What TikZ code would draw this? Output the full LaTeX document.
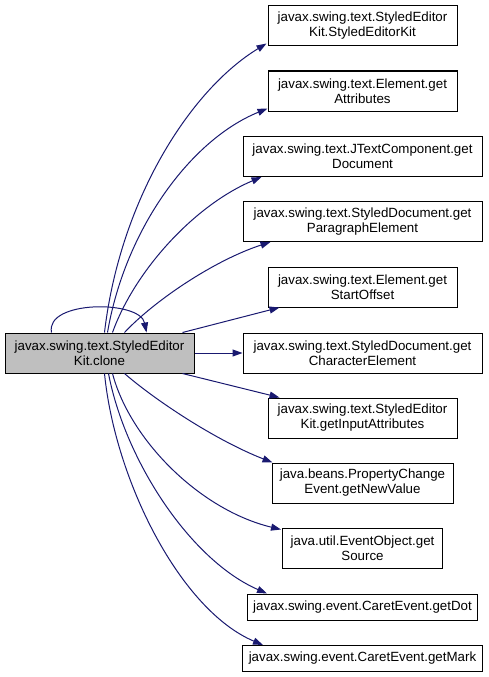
\documentclass[tikz,border=0pt]{standalone}
\usepackage{fontspec}
\setmainfont{Liberation Sans}
\usetikzlibrary{arrows.meta,calc}
\definecolor{edgeblue}{HTML}{191970}
\definecolor{mainfill}{HTML}{BFBFBF}
\begin{document}
\begin{tikzpicture}[x=1pt,y=-1pt,
  box/.style={draw=black,line width=1pt,fill=white,inner sep=0pt,align=center,
    font=\fontsize{13.33}{15}\selectfont,minimum height=40pt},
  onebox/.style={box,minimum height=26pt},
  mainbox/.style={box,fill=mainfill},
  edge/.style={draw=edgeblue,line width=1pt,-{Triangle[length=10pt,width=7pt]}}]
\useasboundingbox (0,0) rectangle (488,677);
\node[mainbox,minimum width=189pt] (main) at (99.5,353) {javax.swing.text.StyledEditor\\Kit.clone};
\node[box,minimum width=189pt] (n1) at (362.5,26) {javax.swing.text.StyledEditor\\Kit.StyledEditorKit};
\node[box,minimum width=189pt] (n2) at (362.5,91) {javax.swing.text.Element.get\\Attributes};
\node[box,minimum width=239pt] (n3) at (362.5,156.5) {javax.swing.text.JTextComponent.get\\Document};
\node[box,minimum width=239pt] (n4) at (362.5,221.5) {javax.swing.text.StyledDocument.get\\ParagraphElement};
\node[box,minimum width=189pt] (n5) at (362.5,287) {javax.swing.text.Element.get\\StartOffset};
\node[box,minimum width=239pt] (n6) at (362.5,353) {javax.swing.text.StyledDocument.get\\CharacterElement};
\node[box,minimum width=189pt] (n7) at (362.5,418) {javax.swing.text.StyledEditor\\Kit.getInputAttributes};
\node[box,minimum width=181pt] (n8) at (362.5,483) {java.beans.PropertyChange\\Event.getNewValue};
\node[box,minimum width=160pt] (n9) at (362.5,548) {java.util.EventObject.get\\Source};
\node[onebox,minimum width=230pt] (n10) at (362.5,607) {javax.swing.event.CaretEvent.getDot};
\node[onebox,minimum width=240pt] (n11) at (362.5,658.5) {javax.swing.event.CaretEvent.getMark};
% self loop
\draw[edge] ($(main.north west)+(47,0)$) .. controls (45,300) and (140,300) .. ($(main.north west)+(142,0)$);
% upward
\draw[edge] ($(main.north west)+(100,0)$) .. controls (120,200) and (190,90) .. ($(n1.south west)+(-1,-3)$);
\draw[edge] ($(main.north west)+(103,0)$) .. controls (125,230) and (190,140) .. ($(n2.south west)+(0,-3)$);
\draw[edge] ($(main.north west)+(108,0)$) .. controls (135,270) and (195,205) .. ($(n3.south west)+(19,0)$);
\draw[edge] ($(main.north west)+(120,0)$) .. controls (155,300) and (215,260) .. ($(n4.south west)+(28,0)$);
% straight
\draw[edge] ($(main.north east)+(-12,0)$) -- ($(n5.south west)+(12,0)$);
\draw[edge] (main.east) -- (n6.west);
\draw[edge] ($(main.south east)+(-12,0)$) -- ($(n7.north west)+(12,0)$);
% downward
\draw[edge] ($(main.south west)+(120,0)$) .. controls (155,400) and (215,440) .. ($(n8.north west)+(1,0)$);
\draw[edge] ($(main.south west)+(108,0)$) .. controls (130,440) and (200,510) .. ($(n9.north west)+(-1,2)$);
\draw[edge] ($(main.south west)+(104,0)$) .. controls (125,460) and (190,560) .. ($(n10.north west)+(20,0)$);
\draw[edge] ($(main.south west)+(100,0)$) .. controls (115,480) and (180,610) .. ($(n11.north west)+(21,0)$);
\end{tikzpicture}
\end{document}
